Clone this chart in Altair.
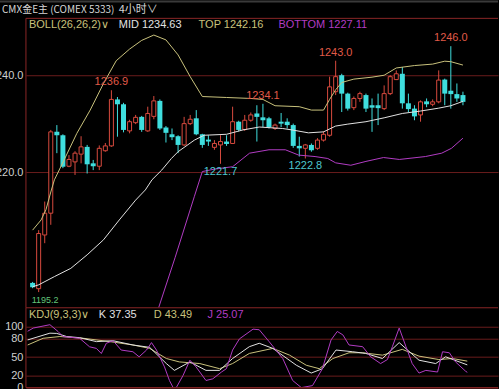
import altair as alt
import pandas as pd

# ---------------- data ----------------
opens = [1197.1, 1195.9, 1207.0, 1211.5, 1228.3, 1227.6, 1221.2, 1222.1, 1223.7, 1225.2,
         1221.8, 1221.2, 1224.4, 1225.4, 1235.0, 1234.0, 1228.5, 1230.2, 1231.4, 1228.5,
         1231.5, 1234.7, 1229.2, 1227.8, 1227.4, 1225.6, 1230.0, 1231.1, 1227.8, 1226.7,
         1225.1, 1225.6, 1226.3, 1225.9, 1230.4, 1228.8, 1230.7, 1232.1, 1231.3, 1231.1,
         1229.0, 1230.4, 1230.4, 1229.7, 1225.4, 1224.9, 1225.6, 1224.9, 1226.6, 1227.6,
         1236.6, 1240.0, 1236.2, 1233.3, 1235.2, 1235.9, 1233.8, 1233.8, 1233.1, 1236.2,
         1239.1, 1240.3, 1234.2, 1233.1, 1231.8, 1234.6, 1234.0, 1234.5, 1239.1, 1236.8,
         1236.1, 1235.9]
highs = [1197.3, 1208.0, 1213.9, 1228.7, 1229.7, 1227.8, 1223.5, 1224.3, 1227.4, 1225.6,
         1222.5, 1225.5, 1226.0, 1236.9, 1235.5, 1234.3, 1230.8, 1231.8, 1231.6, 1233.5,
         1235.7, 1235.0, 1229.5, 1229.0, 1227.6, 1231.4, 1231.8, 1232.8, 1227.9, 1227.6,
         1226.6, 1227.6, 1227.6, 1233.5, 1230.6, 1231.8, 1232.3, 1233.8, 1234.1, 1231.4,
         1230.0, 1232.2, 1231.1, 1230.0, 1227.3, 1225.8, 1225.9, 1227.0, 1228.4, 1239.7,
         1243.0, 1240.3, 1236.4, 1235.6, 1236.6, 1236.2, 1235.2, 1236.2, 1237.9, 1240.0,
         1241.0, 1241.7, 1236.2, 1233.8, 1234.8, 1235.2, 1235.0, 1241.0, 1239.3, 1246.0,
         1238.3, 1236.6]
lows = [1196.0, 1195.2, 1205.3, 1209.1, 1223.9, 1220.8, 1221.0, 1219.4, 1221.8, 1219.7,
        1220.4, 1220.4, 1224.2, 1225.2, 1227.3, 1228.2, 1228.0, 1229.9, 1228.3, 1228.3,
        1230.9, 1228.7, 1226.1, 1226.6, 1223.9, 1225.4, 1229.7, 1227.6, 1225.0, 1225.4,
        1224.6, 1221.7, 1225.4, 1225.8, 1228.4, 1228.5, 1230.4, 1226.3, 1229.3, 1229.0,
        1228.7, 1229.3, 1229.0, 1225.0, 1223.2, 1222.8, 1224.2, 1224.6, 1226.3, 1227.3,
        1235.9, 1232.4, 1232.7, 1232.8, 1234.5, 1232.4, 1228.3, 1229.7, 1232.8, 1235.9,
        1239.0, 1233.1, 1232.4, 1230.7, 1230.4, 1233.4, 1233.6, 1234.2, 1233.8, 1233.1,
        1234.5, 1233.8]
closes = [1196.2, 1207.3, 1211.5, 1228.3, 1227.6, 1221.1, 1222.6, 1223.9, 1225.2, 1221.6,
          1221.2, 1224.9, 1225.4, 1235.0, 1234.0, 1228.7, 1230.4, 1231.3, 1228.7, 1232.1,
          1234.7, 1229.0, 1228.1, 1227.2, 1225.6, 1230.0, 1230.9, 1227.8, 1225.6, 1226.3,
          1225.9, 1226.3, 1225.8, 1230.4, 1228.7, 1230.7, 1231.8, 1231.4, 1230.7, 1229.3,
          1229.7, 1230.0, 1229.7, 1225.4, 1224.9, 1225.6, 1224.5, 1226.6, 1227.8, 1237.6,
          1239.7, 1236.2, 1233.1, 1235.2, 1236.2, 1233.1, 1233.3, 1233.2, 1236.2, 1239.7,
          1240.3, 1234.2, 1233.0, 1231.5, 1234.5, 1234.0, 1234.5, 1239.0, 1236.2, 1236.1,
          1235.2, 1234.5]
bar_index = list(range(len(opens)))

top_x = [0, 1.4, 2.2, 3.1, 3.6, 5.2, 7.3, 9.5, 11.7, 13.8, 16, 18, 20, 22, 24, 26, 28, 32,
         36, 38, 40, 44, 46, 48, 49, 50, 51, 53, 56, 58, 60, 63, 66, 68, 69, 71]
top_y = [1208.0, 1210.1, 1212.2, 1216.3, 1218.4, 1222.5, 1228.0, 1232.8, 1238.3, 1243.0,
         1245.4, 1247.2, 1248.3, 1247.3, 1244.2, 1239.7, 1235.6, 1235.4, 1235.2, 1235.0,
         1233.7, 1233.5, 1232.8, 1232.8, 1235.0, 1237.0, 1238.5, 1239.2, 1239.6, 1240.0,
         1241.5, 1242.0, 1242.3, 1242.9, 1242.8, 1242.1]
mid_x = [0, 1, 3.6, 6.3, 9, 11.7, 14.3, 17, 18.6, 19.7, 21.3, 22.9, 24, 26.7, 28.3, 32,
         34.7, 37.4, 41.2, 42.8, 45.5, 48, 50, 52, 55, 58, 61, 64, 67, 69, 71]
mid_y = [1196.3, 1196.7, 1198.4, 1200.1, 1202.9, 1206.0, 1210.1, 1214.2, 1216.3, 1218.4,
         1220.4, 1222.8, 1224.2, 1226.6, 1227.6, 1227.8, 1228.7, 1229.3, 1229.0, 1228.7,
         1228.1, 1228.3, 1229.5, 1229.9, 1230.4, 1231.2, 1232.1, 1232.6, 1233.2, 1233.7,
         1234.6]
bot_x = [20.8, 23.5, 26.7, 28, 30, 33, 35.8, 39, 41.7, 43.9, 46.6, 48.7, 50, 52.5, 55,
         57.9, 60.5, 64.8, 67.5, 69.1, 71]
bot_y = [1192.0, 1202.3, 1215.0, 1220.1, 1220.6, 1221.1, 1223.9, 1224.6, 1224.6, 1223.5,
         1223.2, 1222.8, 1221.9, 1221.4, 1222.2, 1223.0, 1222.6, 1223.2, 1223.9, 1224.9,
         1227.0]

k_x = [0, 3.6, 4.7, 6.3, 8.4, 11.1, 13.8, 17, 19.7, 22.4, 23.7, 26.2, 28.8, 31, 33.1,
       35.8, 37.4, 39.6, 43.4, 45.8, 47.6, 49.8, 52.5, 54.6, 57.3, 60, 63.2, 65.9, 67.5,
       69.5, 71]
k_y = [78.3, 89.4, 89.0, 83.9, 82.0, 75.5, 77.0, 70.0, 66.1, 39.5, 28.3, 42.2, 28.3, 28.3,
       47.8, 67.2, 72.8, 64.4, 36.7, 23.9, 31.0, 61.7, 58.9, 56.1, 47.8, 73.9, 45.0, 39.5,
       50.6, 43.0, 37.35]
d_x = [0, 2.5, 5.2, 9, 13.3, 17, 19.7, 22.4, 24.5, 27.8, 31, 33.1, 35.8, 39.6, 42.3, 45,
       47.1, 49.3, 51.9, 54.1, 57.3, 60.5, 63.2, 66.4, 68.6, 71]
d_y = [70.0, 81.0, 83.9, 81.0, 75.5, 70.0, 64.4, 47.8, 42.2, 39.5, 31.1, 39.5, 56.1, 64.4,
       53.3, 36.7, 31.1, 47.8, 57.2, 57.2, 53.3, 62.8, 51.7, 46.1, 47.8, 43.49]
j_x = [0, 0.9, 3.6, 4.9, 5.7, 8.4, 10, 11.1, 11.9, 12.7, 13.8, 15.1, 17, 18, 19.2, 20,
       20.8, 22.1, 22.9, 23.5, 24, 25.1, 26.2, 27.2, 28.8, 29.9, 31.3, 32.1, 33.1, 34.2,
       36.4, 37.4, 39, 41.2, 42.8, 44.2, 46, 47.6, 49, 50, 50.9, 51.9, 54.1, 55.4, 57,
       58.1, 58.9, 60, 61.1, 62.1, 63.2, 64.3, 66.2, 67, 68.1, 69.1, 70.7, 71]
j_y = [92.5, 97.8, 103.3, 92.2, 83.9, 81.0, 67.0, 64.4, 56.0, 72.8, 77.0, 61.7, 58.9, 50.6,
       61.7, 73.9, 61.7, 34.0, 11.7, 0.0, 0.0, 20.0, 45.0, 34.0, 11.7, 14.4, 25.6, 31.1,
       61.7, 80.0, 96.0, 95.0, 75.5, 47.8, 11.7, 0.0, 3.3, 31.0, 78.3, 92.2, 86.7, 70.0,
       67.2, 50.6, 39.5, 46.1, 67.2, 97.8, 67.2, 39.5, 23.9, 28.3, 25.6, 58.9, 57.2, 42.2,
       27.2, 25.07]

hi_idx = [13, 38, 50, 69]
hi_val = [1236.9, 1234.1, 1243.0, 1246.0]
lo_idx = [31, 45]
lo_val = [1221.7, 1222.8]
start_idx = [1]
start_val = [1195.2]

# ---------------- styling ----------------
BG = "#000000"
RED = "#d84a3e"
CYAN = "#3fdede"
GRID = "#6a1c1c"
BORDER = "#8a2626"
KHAKI = "#c9c27c"
WHITE = "#e2e2e2"
MAG = "#b23cc4"
LABEL = "#cfcfcf"
FONT = "Liberation Sans"
CJK = "Noto Sans CJK SC"

W = 473
H_HEAD = 18
H_MAIN = 290
H_KDJ = 80

one = pd.DataFrame({"z": [0]})

xs = alt.Scale(domain=[-0.274, 75.96], nice=False, zero=False)
ys_main = alt.Scale(domain=[1191.96, 1251.75], nice=False, zero=False)
ys_kdj = alt.Scale(domain=[0, 131.1], nice=False, zero=False)

yax_main = alt.Axis(values=[1220, 1240], format=".1f", title=None, ticks=False, domain=False,
                    labelPadding=3, labelColor=LABEL, labelFont=FONT, labelFontSize=11,
                    grid=True, gridColor=GRID, gridWidth=1, labelOverlap=False)
yax_kdj = alt.Axis(values=[0, 20, 50, 80, 100], format="d", title=None, ticks=False, domain=False,
                   labelPadding=3, labelColor=LABEL, labelFont=FONT, labelFontSize=11,
                   grid=True, gridColor=GRID, gridWidth=1, labelOverlap=False)


def txt(s, x, y, color, size=11, font=FONT, align="left"):
    return alt.Chart(one).mark_text(text=s, color=color, fontSize=size, font=font,
                                    align=align, baseline="middle").encode(
        x=alt.value(x), y=alt.value(y))


def hrule(y, x1, x2, color, width=1):
    return alt.Chart(one).mark_rule(color=color, strokeWidth=width).encode(
        x=alt.value(x1), x2=alt.value(x2), y=alt.value(y))


def vrule(x, y1, y2, color, width=1):
    return alt.Chart(one).mark_rule(color=color, strokeWidth=width).encode(
        x=alt.value(x), y=alt.value(y1), y2=alt.value(y2))


# ---------------- tables ----------------
cdf = pd.DataFrame({"i": bar_index, "o": opens, "h": highs, "l": lows, "c": closes})
cdf["up"] = [c >= o for o, c in zip(opens, closes)]

top_df = pd.DataFrame({"i": top_x, "v": top_y})
mid_df = pd.DataFrame({"i": mid_x, "v": mid_y})
bot_df = pd.DataFrame({"i": bot_x, "v": bot_y})
k_df = pd.DataFrame({"i": k_x, "v": k_y})
d_df = pd.DataFrame({"i": d_x, "v": d_y})
j_df = pd.DataFrame({"i": j_x, "v": j_y})
hi_df = pd.DataFrame({"i": hi_idx, "v": hi_val, "t": [f"{v:.1f}" for v in hi_val]})
lo_df = pd.DataFrame({"i": lo_idx, "v": lo_val, "t": [f"{v:.1f}" for v in lo_val]})
st_df = pd.DataFrame({"i": start_idx, "v": start_val, "t": [f"{v:.1f}" for v in start_val]})

X = alt.X("i:Q", scale=xs, axis=None)


def YM(field):
    return alt.Y(field, type="quantitative", scale=ys_main, axis=yax_main)


def YK(field):
    return alt.Y(field, type="quantitative", scale=ys_kdj, axis=yax_kdj)


# ---------------- main (candles + BOLL) ----------------
up_wicks = alt.Chart(cdf).transform_filter("datum.up").mark_rule(
    strokeWidth=1, color=RED).encode(x=X, y=YM("l"), y2="h:Q")
dn_wicks = alt.Chart(cdf).transform_filter("!datum.up").mark_rule(
    strokeWidth=1, color=CYAN).encode(x=X, y=YM("l"), y2="h:Q")
up_bodies = alt.Chart(cdf).transform_filter("datum.up").mark_bar(
    size=4, fill=BG, stroke=RED, strokeWidth=1).encode(x=X, y=YM("o"), y2="c:Q")
dn_bodies = alt.Chart(cdf).transform_filter("!datum.up").mark_bar(
    size=5, color=CYAN).encode(x=X, y=YM("o"), y2="c:Q")


def line(df, color, yfun):
    return alt.Chart(df).mark_line(strokeWidth=1, clip=True, color=color).encode(
        x=X, y=yfun("v"), order=alt.Order("i:Q"))


hi_txt = alt.Chart(hi_df).mark_text(color="#e05a48", fontSize=11, font=FONT, dy=-8,
                                    baseline="middle").encode(x=X, y=YM("v"), text="t:N")
lo_txt = alt.Chart(lo_df).mark_text(color="#4ec6cf", fontSize=11, font=FONT, dy=8,
                                    baseline="middle").encode(x=X, y=YM("v"), text="t:N")
st_txt = alt.Chart(st_df).mark_text(color="#62c77a", fontSize=9, font=FONT, dy=8, dx=-7,
                                    align="left", baseline="middle").encode(x=X, y=YM("v"), text="t:N")

main = alt.layer(
    up_wicks, dn_wicks, up_bodies, dn_bodies,
    line(top_df, KHAKI, YM), line(mid_df, WHITE, YM), line(bot_df, MAG, YM),
    hi_txt, lo_txt, st_txt,
    txt("BOLL(26,26,2)∨", 3, 7, KHAKI),
    txt("MID 1234.63", 93, 7, WHITE),
    txt("TOP 1242.16", 173, 7, KHAKI),
    txt("BOTTOM 1227.11", 253, 7, MAG),
    hrule(0, 0, W, BORDER),
    hrule(H_MAIN, 0, W, BORDER),
    vrule(0, 0, H_MAIN, BORDER),
).properties(width=W, height=H_MAIN)

# ---------------- KDJ ----------------
kdj_panel = alt.layer(
    line(d_df, KHAKI, YK), line(k_df, WHITE, YK), line(j_df, MAG, YK),
    txt("KDJ(9,3,3)∨", 3, 7, KHAKI),
    txt("K 37.35", 73, 7, WHITE),
    txt("D 43.49", 128, 7, KHAKI),
    txt("J 25.07", 182, 7, MAG),
    hrule(H_KDJ, 0, W, BORDER),
    vrule(0, 0, H_KDJ, BORDER),
).properties(width=W, height=H_KDJ)

# ---------------- header ----------------
header = alt.layer(
    hrule(1, -30, W, "#3a3a3a", 2),
    txt("CMX金E主 (COMEX 5333)", -24, 10, "#d6d6d6", 10, CJK),
    txt("4小时∨", 93, 10, "#d6d6d6", 11, CJK),
).properties(width=W, height=H_HEAD)

chart = alt.vconcat(header, main, kdj_panel, spacing=0, bounds="flush").properties(
    background=BG,
    padding={"left": -11, "top": 0, "right": 0, "bottom": -4},
).configure_view(strokeWidth=0)

chart.save("out.html", embed_options={"renderer": "svg", "actions": False})
